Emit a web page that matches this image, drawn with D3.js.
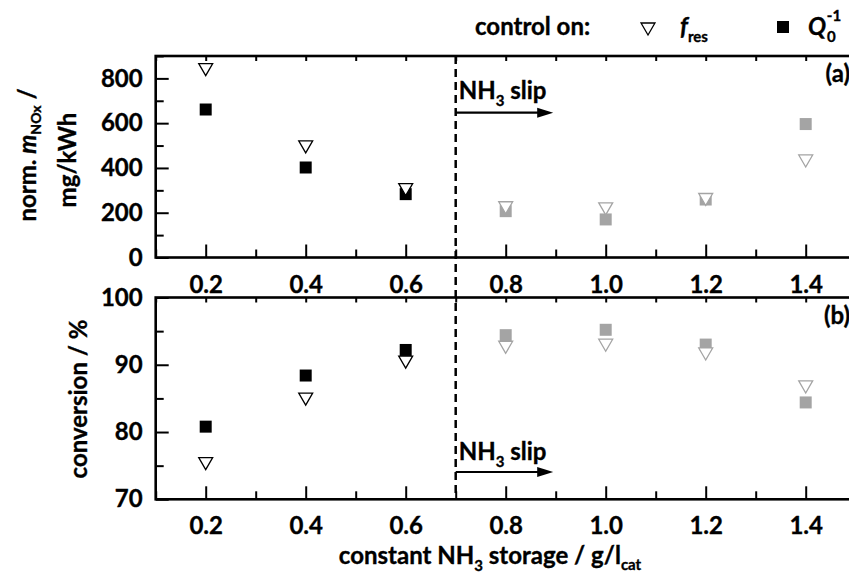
<!DOCTYPE html>
<html>
<head>
<meta charset="utf-8">
<script src="https://cdn.jsdelivr.net/npm/d3@7"></script>
<style>
  body { margin: 0; background: #fff; }
  svg text { font-family: Lato, "Open Sans", sans-serif; font-weight: bold; fill: #000;
             stroke: #000; stroke-width: 0.35px; }
</style>
</head>
<body>
<div id="chart"></div>
<script>
"use strict";

// data
const storage = [0.2, 0.4, 0.6, 0.8, 1.0, 1.2, 1.4];
const noxFres = [848, 503, 312, 231, 226, 268, 440];
const noxQ = [661, 402, 283, 207, 170, 259, 596];
const convFres = [75.6, 85.2, 90.7, 92.9, 93.2, 91.9, 87.0];
const convQ = [80.8, 88.4, 92.2, 94.4, 95.2, 93.0, 84.4];
const slipStart = 0.7;
const slipArrowEnd = 0.895;
const xMajor = [0.2, 0.4, 0.6, 0.8, 1.0, 1.2, 1.4];
const xMinor = [0.1, 0.3, 0.5, 0.7, 0.9, 1.1, 1.3, 1.5];
const noxMajor = [0, 200, 400, 600, 800];
const noxMinor = [100, 300, 500, 700, 900];
const convMajor = [70, 80, 90, 100];
const convMinor = [75, 85, 95];

const width = 849, height = 576;
const black = "#000", grey = "#a4a4a4";
const fs = "24px", subFs = "15px";

const svg = d3.select("#chart").append("svg")
  .attr("width", width)
  .attr("height", height);

const x = d3.scaleLinear().domain([0.1, 1.5]).range([155.7, 855.7]);
const yTop = d3.scaleLinear().domain([0, 900]).range([257.5, 56]);
const yBot = d3.scaleLinear().domain([70, 100]).range([499.3, 297.5]);

function drawPanel(y, major, minor, label) {
  const g = svg.append("g");
  const [y0, y1] = y.range();

  // bottom axis, ticks pointing in
  g.append("g").attr("transform", `translate(0,${y0})`)
    .call(d3.axisBottom(x).tickValues(xMinor).tickSize(-8).tickFormat(""));
  g.append("g").attr("transform", `translate(0,${y0})`)
    .call(d3.axisBottom(x).tickValues(xMajor).tickSize(-13).tickPadding(18)
      .tickFormat(d3.format(".1f")));
  // top mirror ticks
  g.append("g").attr("transform", `translate(0,${y1})`)
    .call(d3.axisTop(x).tickValues(xMinor.concat(xMajor)).tickSize(-5).tickFormat(""));
  // left axis
  g.append("g").attr("transform", `translate(${x.range()[0]},0)`)
    .call(d3.axisLeft(y).tickValues(minor).tickSize(-8).tickFormat(""));
  g.append("g").attr("transform", `translate(${x.range()[0]},0)`)
    .call(d3.axisLeft(y).tickValues(major).tickSize(-13).tickPadding(13));

  g.selectAll(".domain").remove();
  g.selectAll(".tick line").attr("stroke", black).attr("stroke-width", 2);
  g.selectAll(".tick text").style("font-size", fs);

  g.append("rect")
    .attr("x", x.range()[0]).attr("y", y1)
    .attr("width", x.range()[1] - x.range()[0])
    .attr("height", y0 - y1)
    .attr("fill", "none").attr("stroke", black).attr("stroke-width", 2.6);

  g.append("text")
    .attr("x", 850).attr("y", y1 + 26)
    .attr("text-anchor", "end")
    .style("font-size", fs)
    .text(label);
  return g;
}

const triPath = d3.symbol().type(d3.symbolTriangle).size(84)();
const sqPath = d3.symbol().type(d3.symbolSquare).size(144)();

function drawMarkers(g, y, qVals, fVals) {
  const colorOf = v => v > slipStart ? grey : black;
  g.selectAll(".sq").data(storage).join("path")
    .attr("d", sqPath)
    .attr("transform", (d, i) => `translate(${x(d)},${y(qVals[i])})`)
    .attr("fill", colorOf);
  g.selectAll(".tri").data(storage).join("path")
    .attr("d", triPath)
    .attr("transform", (d, i) => `translate(${x(d)},${y(fVals[i])}) rotate(180)`)
    .attr("fill", "#fff")
    .attr("stroke", colorOf)
    .attr("stroke-width", 1.3);
}

function slipLabel(yText, yArrow) {
  const x0 = x(slipStart), x1 = x(slipArrowEnd);
  const t = svg.append("text").attr("x", x0 + 3).attr("y", yText).style("font-size", fs);
  t.append("tspan").text("NH");
  t.append("tspan").attr("dy", 7).style("font-size", subFs).text("3");
  t.append("tspan").attr("dy", -7).text(" slip");
  svg.append("line")
    .attr("x1", x0).attr("x2", x1 - 12)
    .attr("y1", yArrow).attr("y2", yArrow)
    .attr("stroke", black).attr("stroke-width", 2.2);
  svg.append("path")
    .attr("d", `M${x1},${yArrow} L${x1 - 16},${yArrow - 5} L${x1 - 16},${yArrow + 5} Z`)
    .attr("fill", black);
}

const panelA = drawPanel(yTop, noxMajor, noxMinor, "(a)");
const panelB = drawPanel(yBot, convMajor, convMinor, "(b)");

// slip threshold
svg.append("line")
  .attr("x1", x(slipStart)).attr("x2", x(slipStart))
  .attr("y1", yTop.range()[1]).attr("y2", yBot.range()[0])
  .attr("stroke", black).attr("stroke-width", 2.5)
  .attr("stroke-dasharray", "8,5");

slipLabel(99, 112.7);
slipLabel(460, 472);

drawMarkers(panelA, yTop, noxQ, noxFres);
drawMarkers(panelB, yBot, convQ, convFres);

// y titles
const t1 = svg.append("text")
  .attr("transform", "translate(36,155) rotate(-90)")
  .attr("text-anchor", "middle")
  .style("font-size", fs);
t1.append("tspan").text("norm. ");
t1.append("tspan").style("font-style", "italic").text("m");
t1.append("tspan").attr("dy", 5).style("font-size", "14px").text("NOx");
t1.append("tspan").attr("dy", -5).text(" /");

svg.append("text")
  .attr("transform", "translate(76,160) rotate(-90)")
  .attr("text-anchor", "middle")
  .style("font-size", fs)
  .text("mg/kWh");

svg.append("text")
  .attr("transform", "translate(87,399) rotate(-90)")
  .attr("text-anchor", "middle")
  .style("font-size", fs)
  .text("conversion / %");

// x title
const xt = svg.append("text")
  .attr("x", 490).attr("y", 564)
  .attr("text-anchor", "middle")
  .style("font-size", fs);
xt.append("tspan").text("constant NH");
xt.append("tspan").attr("dy", 7).style("font-size", subFs).text("3");
xt.append("tspan").attr("dy", -7).text(" storage / g/l");
xt.append("tspan").attr("dy", 6).style("font-size", subFs).text("cat");

// legend
svg.append("text").attr("x", 475).attr("y", 35).style("font-size", fs).text("control on:");
svg.append("path").attr("d", triPath)
  .attr("transform", "translate(648,27) rotate(180)")
  .attr("fill", "#fff").attr("stroke", black).attr("stroke-width", 1.3);
const lf = svg.append("text").attr("x", 680).attr("y", 35).style("font-size", fs);
lf.append("tspan").style("font-style", "italic").text("f");
lf.append("tspan").attr("dy", 7).style("font-size", subFs).text("res");
svg.append("path").attr("d", sqPath)
  .attr("transform", "translate(783,27)").attr("fill", black);
const lq = svg.append("text").attr("x", 808).attr("y", 35).style("font-size", fs);
lq.append("tspan").style("font-style", "italic").text("Q");
lq.append("tspan").attr("dx", 1).attr("dy", 7).style("font-size", subFs).text("0");
lq.append("tspan").attr("dx", -9).attr("dy", -21).style("font-size", subFs).text("-1");
</script>
</body>
</html>
